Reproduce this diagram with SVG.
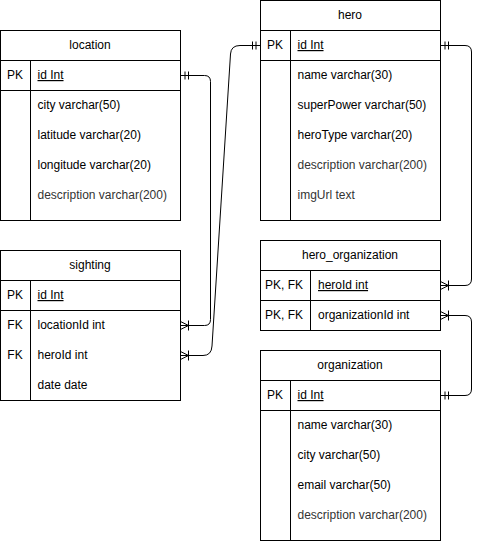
<svg xmlns="http://www.w3.org/2000/svg" width="480" height="541" viewBox="0 0 480 541">
<style>
.box{fill:#fff;stroke:#000;stroke-width:1}
.ln{stroke:#000;stroke-width:1;fill:none}
text{font-family:"Liberation Sans",Arial,Helvetica,sans-serif;font-size:12px;fill:#000}
.t{text-anchor:middle}
.k{text-anchor:middle}
.u{text-decoration:underline}
.g{fill:#333}
.edge{fill:none;stroke:#000;stroke-width:1}
</style>
<defs>
<marker id="many" markerUnits="userSpaceOnUse" orient="auto" refX="0" refY="0" markerWidth="10" markerHeight="12" overflow="visible">
<path d="M0,-4 L-8,0 L0,4 M-8,-5 V5" fill="none" stroke="#000" stroke-width="1"/>
</marker>
<marker id="one" markerUnits="userSpaceOnUse" orient="auto-start-reverse" refX="0" refY="0" markerWidth="10" markerHeight="12" overflow="visible">
<path d="M-4.5,-4 V4 M-8,-4 V4" fill="none" stroke="#000" stroke-width="1"/>
</marker>
</defs>

<g id="connectors">
<path class="edge" d="M180.5,75.5 H204.5 Q210.5,75.5 210.5,81.5 V319.5 Q210.5,325.5 204.5,325.5 H180.5" marker-start="url(#one)" marker-end="url(#many)"/>
<path class="edge" d="M260.5,45.5 H240 Q231,45.5 230.5,54 L212,346 Q211.5,355.5 203,355.5 H180.5" marker-start="url(#one)" marker-end="url(#many)"/>
<path class="edge" d="M440.5,45.5 H465 Q471.5,45.5 471.5,52 V279 Q471.5,285.5 465,285.5 H440.5" marker-start="url(#one)" marker-end="url(#many)"/>
<path class="edge" d="M440.5,395.5 H465 Q471.5,395.5 471.5,389 V322 Q471.5,315.5 465,315.5 H440.5" marker-start="url(#one)" marker-end="url(#many)"/>
</g>

<g id="location">
<rect class="box" x="0.5" y="30.5" width="180" height="190"/>
<path class="ln" d="M0.5,60.5 H180.5 M0.5,90.5 H180.5 M30.5,60.5 V220.5"/>
<text class="t" x="90" y="49">location</text>
<text class="k" x="15" y="79">PK</text>
<text class="u" x="37.5" y="79">id Int</text>
<text x="37.5" y="109">city varchar(50)</text>
<text x="37.5" y="139">latitude varchar(20)</text>
<text x="37.5" y="169">longitude varchar(20)</text>
<text class="g" x="37.5" y="199">description varchar(200)</text>
</g>

<g id="sighting">
<rect class="box" x="0.5" y="250.5" width="180" height="150"/>
<path class="ln" d="M0.5,280.5 H180.5 M0.5,310.5 H180.5 M30.5,280.5 V400.5"/>
<text class="t" x="90" y="269">sighting</text>
<text class="k" x="15" y="299">PK</text>
<text class="u" x="37.5" y="299">id Int</text>
<text class="k" x="15" y="329">FK</text>
<text x="37.5" y="329">locationId int</text>
<text class="k" x="15" y="359">FK</text>
<text x="37.5" y="359">heroId int</text>
<text x="37.5" y="389">date date</text>
</g>

<g id="hero">
<rect class="box" x="260.5" y="0.5" width="180" height="220"/>
<path class="ln" d="M260.5,30.5 H440.5 M260.5,60.5 H440.5 M290.5,30.5 V220.5"/>
<text class="t" x="350" y="19">hero</text>
<text class="k" x="275" y="49">PK</text>
<text class="u" x="297.5" y="49">id Int</text>
<text x="297.5" y="79">name varchar(30)</text>
<text x="297.5" y="109">superPower varchar(50)</text>
<text x="297.5" y="139">heroType varchar(20)</text>
<text class="g" x="297.5" y="169">description varchar(200)</text>
<text class="g" x="297.5" y="199">imgUrl text</text>
</g>

<g id="hero_organization">
<rect class="box" x="260.5" y="240.5" width="180" height="90"/>
<path class="ln" d="M260.5,270.5 H440.5 M260.5,300.5 H440.5 M310.5,270.5 V330.5"/>
<text class="t" x="350" y="259">hero_organization</text>
<text class="k" x="284" y="289">PK, FK</text>
<text class="u" x="318" y="289">heroId int</text>
<text class="k" x="284" y="319">PK, FK</text>
<text x="318" y="319">organizationId int</text>
</g>

<g id="organization">
<rect class="box" x="260.5" y="350.5" width="180" height="190"/>
<path class="ln" d="M260.5,380.5 H440.5 M260.5,410.5 H440.5 M290.5,380.5 V540.5"/>
<text class="t" x="350" y="369">organization</text>
<text class="k" x="275" y="399">PK</text>
<text class="u" x="297.5" y="399">id Int</text>
<text x="297.5" y="429">name varchar(30)</text>
<text x="297.5" y="459">city varchar(50)</text>
<text x="297.5" y="489">email varchar(50)</text>
<text class="g" x="297.5" y="519">description varchar(200)</text>
</g>
</svg>
